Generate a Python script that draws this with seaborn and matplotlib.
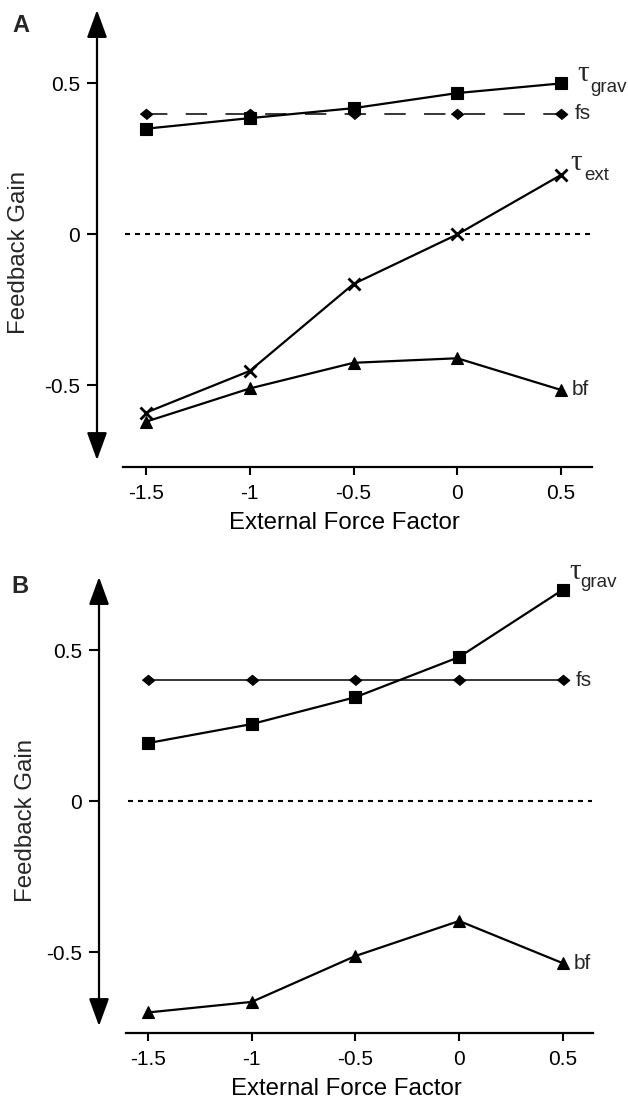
import numpy as np
import pandas as pd
import matplotlib
matplotlib.use("Agg")
import matplotlib.pyplot as plt
import seaborn as sns

# ---------------- data ----------------
factors = [-1.5, -1.0, -0.5, 0.0, 0.5]
xtick_labels = ["-1.5", "-1", "-0.5", "0", "0.5"]
ytick_vals = [-0.5, 0.0, 0.5]
ytick_labels = ["-0.5", "0", "0.5"]

a_tau_grav = [0.35, 0.385, 0.418, 0.468, 0.50]
a_fs = [0.40, 0.40, 0.40, 0.40, 0.40]
a_tau_ext = [-0.59, -0.452, -0.164, 0.0, 0.197]
a_bf = [-0.62, -0.51, -0.425, -0.41, -0.515]

b_tau_grav = [0.192, 0.255, 0.344, 0.477, 0.70]
b_fs = [0.40, 0.40, 0.40, 0.40, 0.40]
b_bf = [-0.70, -0.665, -0.513, -0.397, -0.537]

panel_letters = ["A", "B"]
xlabel_text = "External Force Factor"
ylabel_text = "Feedback Gain"

# ---------------- style ----------------
sns.set_theme(style="white")
plt.rcParams["font.family"] = ["Liberation Sans", "DejaVu Sans"]

W, H = 628, 1100
fig = plt.figure(figsize=(W / 100, H / 100), dpi=100)

diamond = [(-1.0, 0.0), (0.0, 0.83), (1.0, 0.0), (0.0, -0.83)]


def line(ax, vals, marker, ms, lw=1.5, dashes=None, mew=0.8):
    df = pd.DataFrame({"factor": factors, "gain": vals})
    sns.lineplot(data=df, x="factor", y="gain", ax=ax, color="black",
                 marker=marker, markersize=ms, linewidth=lw,
                 markeredgecolor="black", markerfacecolor="black",
                 markeredgewidth=mew, errorbar=None, sort=False)
    if dashes is not None:
        ax.lines[-1].set_dashes(dashes)


def setup(ax, xlim, ylim, xaxis_start, arrow_lo, arrow_hi):
    ax.set_xlim(*xlim)
    ax.set_ylim(*ylim)
    for s in ["top", "right", "left"]:
        ax.spines[s].set_visible(False)
    ax.spines["bottom"].set_linewidth(1.6)
    ax.spines["bottom"].set_color("black")
    ax.spines["bottom"].set_bounds(xaxis_start, xlim[1])
    ax.set_xticks(factors, xtick_labels)
    ax.set_yticks(ytick_vals, ytick_labels)
    ax.tick_params(axis="x", direction="out", length=6, width=1.5, pad=6,
                   labelsize=15, colors="black", bottom=True)
    ax.tick_params(axis="y", direction="out", length=7, width=1.5, pad=5,
                   labelsize=15, colors="black", left=True)
    ax.grid(False)
    ax.set_facecolor("white")
    ax.annotate("", xy=(0, arrow_hi), xytext=(0, arrow_lo),
                xycoords=ax.get_yaxis_transform(),
                textcoords=ax.get_yaxis_transform(),
                arrowprops=dict(arrowstyle="<|-|>,head_length=1.7,head_width=0.62",
                                lw=1.6, color="black", shrinkA=0, shrinkB=0,
                                mutation_scale=10))
    ax.plot([xaxis_start + 0.01, xlim[1] - 0.005], [0, 0], color="black", lw=1.5,
            linestyle=(0, (2.4, 2.4)), zorder=1)


def finish(ax):
    ax.set_xlabel(xlabel_text, fontsize=17.3, labelpad=7, color="black")
    ax.set_ylabel("")


def tau_label(ax, x, y, sub, tau_off, sub_off):
    ax.annotate("\u03c4", xy=(x, y), xytext=tau_off, textcoords="offset points",
                fontsize=21, family=["Liberation Serif", "DejaVu Serif"],
                ha="left", va="baseline")
    ax.annotate(sub, xy=(x, y), xytext=sub_off, textcoords="offset points",
                fontsize=13.5, ha="left", va="baseline")


# ---------------- panel A ----------------
axA = fig.add_axes([97 / W, 1 - 467 / H, 495 / W, 457 / H])
setup(axA, (-1.736, 0.649), (-0.770, 0.743), -1.611, -0.747, 0.743)
line(axA, a_fs, diamond, 9, lw=1.1, dashes=(14, 12))
line(axA, a_tau_grav, "s", 8, lw=1.6)
line(axA, a_tau_ext, "x", 9, lw=1.6, mew=2.0)
line(axA, a_bf, "^", 9, lw=1.6)
finish(axA)

tau_label(axA, factors[-1], a_tau_grav[-1], "grav", (11.5, 1.4), (20.8, -6.5))
axA.annotate("fs", xy=(factors[-1], a_fs[-1]), xytext=(9.5, 0),
             textcoords="offset points", fontsize=15, ha="left", va="center")
tau_label(axA, factors[-1], a_tau_ext[-1], "ext", (6.8, 3.6), (17.0, -3.6))
axA.annotate("bf", xy=(factors[-1], a_bf[-1]), xytext=(8, 0),
             textcoords="offset points", fontsize=15, ha="left", va="center")

# ---------------- panel B ----------------
axB = fig.add_axes([99 / W, 1 - 1033 / H, 494 / W, 456 / H])
setup(axB, (-1.736, 0.645), (-0.768, 0.742), -1.606, -0.745, 0.742)
line(axB, b_fs, diamond, 9, lw=1.1)
line(axB, b_tau_grav, "s", 8, lw=1.6)
line(axB, b_bf, "^", 9, lw=1.6)
finish(axB)

tau_label(axB, factors[-1], b_tau_grav[-1], "grav", (4.6, 7.9), (12.2, 2.2))
axB.annotate("fs", xy=(factors[-1], b_fs[-1]), xytext=(9.5, 0),
             textcoords="offset points", fontsize=15, ha="left", va="center")
axB.annotate("bf", xy=(factors[-1], b_bf[-1]), xytext=(8, 0),
             textcoords="offset points", fontsize=15, ha="left", va="center")

# ---------------- labels ----------------
fig.text(12 / W, 1 - 32 / H, panel_letters[0], fontsize=17, fontweight="bold",
         ha="left", va="baseline")
fig.text(11 / W, 1 - 593 / H, panel_letters[1], fontsize=17, fontweight="bold",
         ha="left", va="baseline")
fig.text(19 / W, 1 - 253 / H, ylabel_text, fontsize=17.3, rotation=90,
         ha="center", va="center")
fig.text(26 / W, 1 - 820 / H, ylabel_text, fontsize=17.3, rotation=90,
         ha="center", va="center")

fig.savefig("out.png", dpi=100, facecolor="white")
